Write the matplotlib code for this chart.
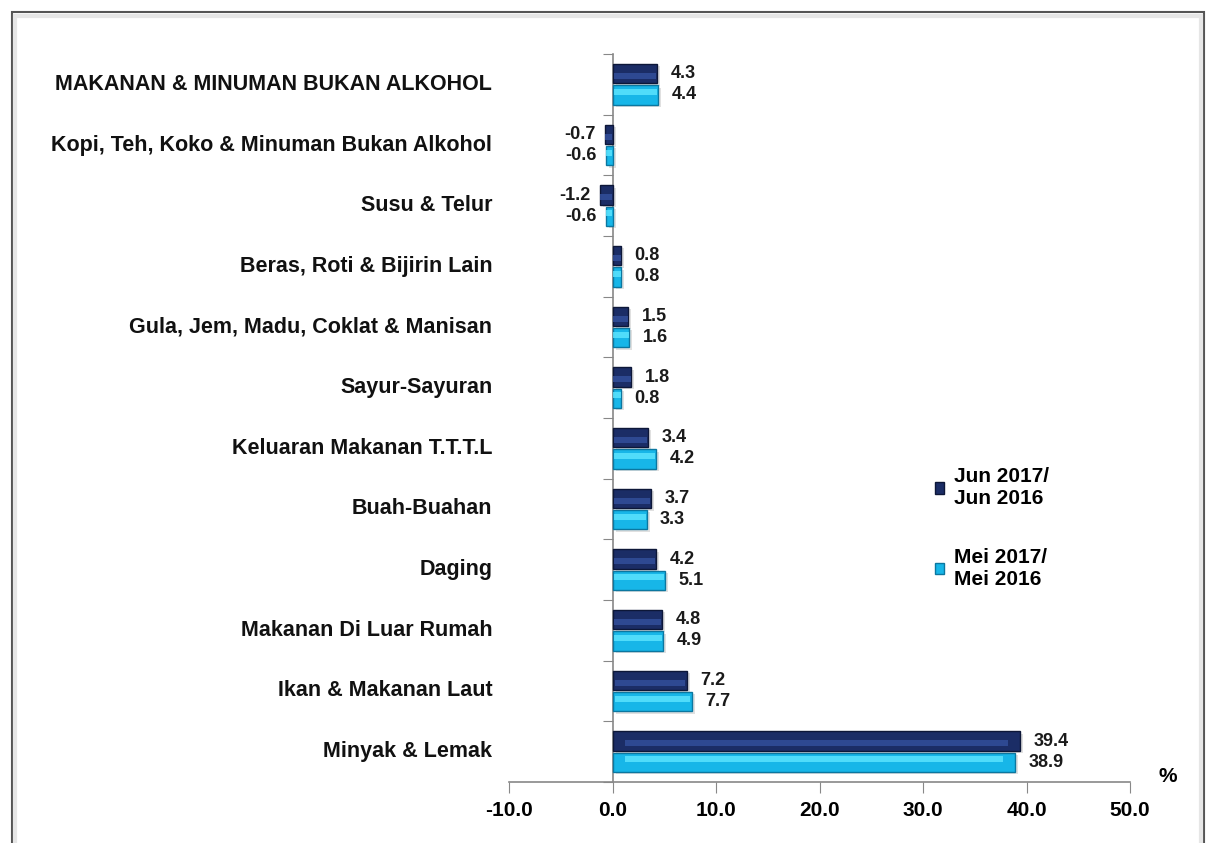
import numpy as np
import matplotlib
matplotlib.use('Agg')
import matplotlib.pyplot as plt
from matplotlib.patches import Rectangle, Patch
from matplotlib.transforms import blended_transform_factory

plt.rcParams['font.family'] = ['Liberation Sans', 'DejaVu Sans']
plt.rcParams['font.weight'] = 'bold'

CATEGORIES = ['MAKANAN & MINUMAN BUKAN ALKOHOL',
              'Kopi, Teh, Koko & Minuman Bukan Alkohol',
              'Susu & Telur',
              'Beras, Roti & Bijirin Lain',
              'Gula, Jem, Madu, Coklat & Manisan',
              'Sayur-Sayuran',
              'Keluaran Makanan T.T.T.L',
              'Buah-Buahan',
              'Daging',
              'Makanan Di Luar Rumah',
              'Ikan & Makanan Laut',
              'Minyak & Lemak']
JUN = [4.3, -0.7, -1.2, 0.8, 1.5, 1.8, 3.4, 3.7, 4.2, 4.8, 7.2, 39.4]
MEI = [4.4, -0.6, -0.6, 0.8, 1.6, 0.8, 4.2, 3.3, 5.1, 4.9, 7.7, 38.9]
SERIES = ['Jun 2017/\nJun 2016', 'Mei 2017/\nMei 2016']
XTICKS = [-10, 0, 10, 20, 30, 40, 50]

DARK = ('#1B2D66', '#34519E', '#0D1738')
LIGHT = ('#17B6E8', '#5FE6FF', '#0B77A0')

fig = plt.figure(figsize=(12.08, 8.43), dpi=100)
# outer frame
fig.patches.append(Rectangle((12 / 1208, -0.1), 1192 / 1208, 1 + 0.1 - 12 / 843,
                             transform=fig.transFigure, fill=False,
                             edgecolor='#555555', linewidth=1.5))
fig.patches.append(Rectangle((15 / 1208, -0.1), 1186 / 1208, 1 + 0.1 - 16 / 843,
                             transform=fig.transFigure, fill=False,
                             edgecolor='#e6e6e6', linewidth=3))

ax = fig.add_axes([509 / 1208, 61 / 843, 621 / 1208, 728 / 843])
y = np.arange(len(CATEGORIES))
h = 0.32
off = 0.175


def draw(vals, ypos, cols, hl):
    v = np.array(vals)
    # soft shadow
    ax.barh(ypos + 0.04, v, left=0.3, height=h, color='#000000',
            alpha=0.12, linewidth=0, zorder=2)
    ax.barh(ypos, v, height=h, color=cols[0], edgecolor=cols[2], linewidth=1, zorder=3)
    # glossy highlight stripe
    ax.barh(ypos + h * hl, v * 0.94, left=v * 0.03, height=h * 0.32,
            color=cols[1], linewidth=0, zorder=4, alpha=0.8)


draw(JUN, y - off, DARK, 0.12)
draw(MEI, y + off, LIGHT, -0.15)

for vals, dy in ((JUN, -off), (MEI, off)):
    for i, v in enumerate(vals):
        if v >= 0:
            ax.text(v + 1.3, i + dy, f'{v:.1f}', ha='left', va='center', fontsize=13, color='#1a1a1a')
        else:
            ax.text(v - 0.9, i + dy, f'{v:.1f}', ha='right', va='center', fontsize=13, color='#1a1a1a')

ax.set_xlim(-10, 50)
ax.set_ylim(len(CATEGORIES) - 0.5, -0.5)
ax.set_xticks(XTICKS)
ax.set_xticklabels([f'{t:.1f}' for t in XTICKS], fontsize=15)
ax.set_yticks(np.arange(len(CATEGORIES) + 1) - 0.5)
ax.set_yticklabels([])
ax.tick_params(axis='x', direction='out', length=8, color='#888888', pad=6)
ax.tick_params(axis='y', direction='out', length=7, color='#888888')
ax.spines['top'].set_visible(False)
ax.spines['right'].set_visible(False)
ax.spines['left'].set_position(('data', 0))
for s in ('left', 'bottom'):
    ax.spines[s].set_color('#888888')
    ax.spines[s].set_linewidth(1.2)

tr = blended_transform_factory(ax.transAxes, ax.transData)
for i, c in enumerate(CATEGORIES):
    ax.text(-0.027, i, c, transform=tr, ha='right', va='center', fontsize=15.5, color='#111111')

ax.text(1.06, -0.005, '%', transform=ax.transAxes, ha='center', va='bottom', fontsize=15)

handles = [Patch(facecolor=DARK[0], edgecolor=DARK[2]), Patch(facecolor=LIGHT[0], edgecolor=LIGHT[2])]
ax.legend(handles, SERIES, loc='upper left', bbox_to_anchor=(0.655, 0.458), frameon=False,
          handlelength=0.45, handleheight=0.45, handletextpad=0.5, labelspacing=1.9,
          prop={'size': 15, 'weight': 'bold'})

fig.savefig('out.png', dpi=100)
